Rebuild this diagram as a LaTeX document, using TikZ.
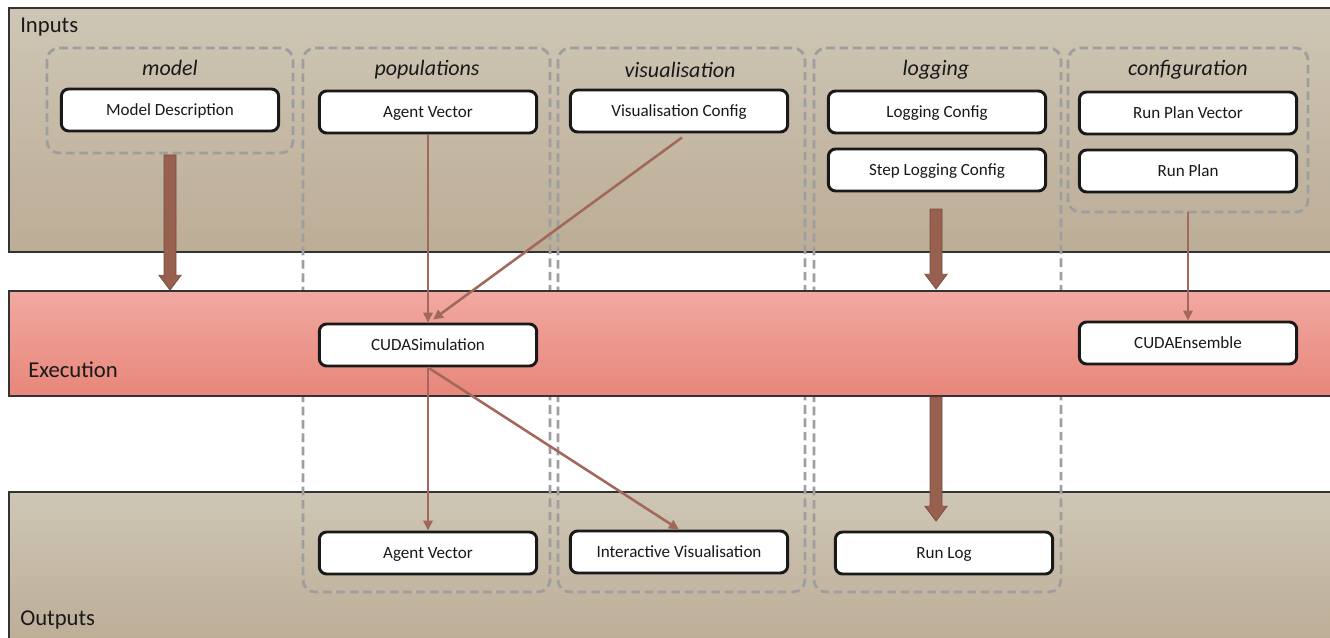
\documentclass[tikz,border=0pt]{standalone}
\usepackage{fontspec}
\setmainfont{Carlito}
\usetikzlibrary{arrows.meta,calc}
\definecolor{inTop}{HTML}{CEC6B5}
\definecolor{inBot}{HTML}{BCAD96}
\definecolor{exTop}{HTML}{F1A9A1}
\definecolor{exBot}{HTML}{E8867A}
\definecolor{grp}{HTML}{9E9E9E}
\definecolor{arr}{HTML}{A2685A}
\definecolor{blk}{HTML}{98604F}
\definecolor{blkedge}{HTML}{7B4A3D}
\newcommand\blockarrow[2]{%
  \path[fill=blk,draw=blkedge,line width=0.6pt] let \p1=(#1),\p2=(#2) in
    (\x1-4.5pt,\y1) -- (\x1+4.5pt,\y1) -- (\x1+4.5pt,\y2+11pt) -- (\x1+8.25pt,\y2+11pt)
    -- (\x1,\y2) -- (\x1-8.25pt,\y2+11pt) -- (\x1-4.5pt,\y2+11pt) -- cycle;}
\begin{document}
\begin{tikzpicture}[x=0.75pt,y=-0.75pt,
  band/.style={draw=black!80,line width=0.9pt},
  grpbox/.style={draw=grp,line width=2.1pt,dash pattern=on 6.5pt off 3.5pt,rounded corners=9pt},
  grplabel/.style={font=\fontsize{16.5}{19}\selectfont\itshape,text=black!90,inner sep=0pt},
  box/.style={draw=black!90,fill=white,line width=2.2pt,rounded corners=5.5pt,minimum width=163pt,minimum height=31.5pt,font=\fontsize{12.8}{15}\selectfont,inner sep=0pt,text height=1.9ex,text depth=0.1ex,text=black!90},
  thin/.style={draw=arr,line width=1.9pt,-{Triangle[length=7.5pt,width=7pt]}},
  bandlabel/.style={font=\fontsize{17}{20}\selectfont,anchor=west,inner sep=0pt,text=black!90}]
\useasboundingbox (0,0) rectangle (1330,638);
\clip (0,0) rectangle (1330,638);
\fill[white] (0,0) rectangle (1330,638);
% bands
\shade[top color=inTop,bottom color=inBot] (9,8) rectangle (1340,252);
\draw[band] (1340,8) -- (9,8) -- (9,252) -- (1340,252);
\shade[top color=inTop,bottom color=inBot] (9,492) rectangle (1340,645);
\draw[band] (1340,492) -- (9,492) -- (9,645);
\node[bandlabel] (inl) at (20,27) {Inputs};
\node[bandlabel] (outl) at (20,620) {Outputs};
% groups
\draw[grpbox] (47,48) rectangle (293,153);
\draw[grpbox] (303,48) rectangle (550,592);
\draw[grpbox] (558,48) rectangle (805,592);
\draw[grpbox] (814,48) rectangle (1061,592);
\draw[grpbox] (1068,48) rectangle (1308,212);
\node[grplabel] (gm) at (170,68) {model};
\node[grplabel] (gp) at (427,70) {populations};
\node[grplabel] (gv) at (680,70) {visualisation};
\node[grplabel] (gl) at (936,70) {logging};
\node[grplabel] (gc) at (1188,70) {configuration};
% execution band
\shade[top color=exTop,bottom color=exBot] (9,291) rectangle (1340,396);
\draw[band] (1340,291) -- (9,291) -- (9,396) -- (1340,396);
\node[bandlabel] (exl) at (28,370) {Execution};
% nodes
\node[box] (md) at (170,110) {Model Description};
\node[box] (av1) at (428,112) {Agent Vector};
\node[box] (vc) at (679,111) {Visualisation Config};
\node[box] (lc) at (937,112) {Logging Config};
\node[box] (slc) at (937,170) {Step Logging Config};
\node[box] (rpv) at (1188,113) {Run Plan Vector};
\node[box] (rp) at (1188,171) {Run Plan};
\node[box] (cs) at (428,345) {CUDASimulation};
\node[box] (ce) at (1188,343) {CUDAEnsemble};
\node[box] (av2) at (428,553) {Agent Vector};
\node[box] (iv) at (679,552) {Interactive Visualisation};
\node[box] (rl) at (944,553) {Run Log};
% coordinates
\coordinate (ma1) at (170,155);
\coordinate (ma2) at (170,290);
\coordinate (la1) at (936,209);
\coordinate (la2) at (936,289);
\coordinate (ra1) at (936,397);
\coordinate (ra2) at (936,521);
\coordinate (cfg) at (1188,212);
% block arrows
\blockarrow{ma1}{ma2}
\blockarrow{la1}{la2}
\blockarrow{ra1}{ra2}
% thin arrows
\draw[thin] (av1.south) -- (cs.north);
\draw[thin] ($(vc.south)+(3,4)$) -- ($(cs.north)+(5,-3)$);
\draw[thin] (cfg) -- (ce.north);
\draw[thin] (cs.south) -- (av2.north);
\draw[thin] (cs.south) -- (iv.north);
\end{tikzpicture}
\end{document}
